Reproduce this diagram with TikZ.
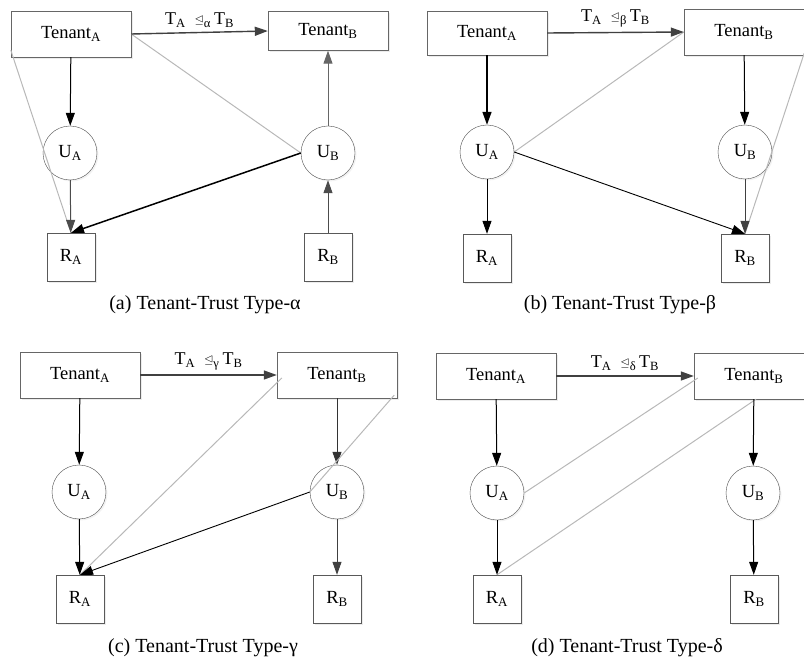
\documentclass[tikz,border=0pt]{standalone}
\usepackage{fontspec}
\usepackage{amssymb}
\setmainfont{Liberation Serif}
\usetikzlibrary{arrows.meta,shadows}

\newcommand{\trustrel}[1]{T\textsubscript{A}\enspace\raisebox{1pt}{\fontsize{12}{12}\selectfont$\trianglelefteq$}\textsubscript{#1}\,T\textsubscript{B}}

\begin{document}
\begin{tikzpicture}[x=1pt, y=-1pt,
  tenant/.style={rectangle, draw=black!60, fill=white, minimum width=120pt, minimum height=46pt, inner sep=0pt, font=\fontsize{18.5}{20}\selectfont, drop shadow={shadow xshift=2pt, shadow yshift=-2pt, fill=black!15}},
  user/.style={circle, draw=black!70, fill=white, minimum size=54pt, inner sep=0pt, font=\fontsize{18.5}{20}\selectfont, drop shadow={shadow xshift=1.5pt, shadow yshift=-1.5pt, fill=black!10}},
  res/.style={rectangle, draw=black!65, fill=white, minimum size=48pt, inner sep=0pt, font=\fontsize{18.5}{20}\selectfont, drop shadow={shadow xshift=2pt, shadow yshift=-2pt, fill=black!15}},
  arrow/.style={-{Triangle[length=13pt, width=9pt]}, line width=1pt},
  trust/.style={draw=black!28, line width=1pt},
  caption/.style={font=\fontsize{20}{22}\selectfont}
]
  \useasboundingbox (0,0) rectangle (804,663);

  % (a) type alpha
  \node[tenant, minimum height=46pt] (aTA) at (71,34) {Tenant\textsubscript{A}};
  \node[tenant, minimum height=39pt] (aTB) at (328,31) {Tenant\textsubscript{B}};
  \node[user] (aUA) at (70,153) {U\textsubscript{A}};
  \node[user] (aUB) at (328,153) {U\textsubscript{B}};
  \node[res] (aRA) at (71,257) {R\textsubscript{A}};
  \node[res] (aRB) at (328,257) {R\textsubscript{B}};
  \draw[trust] ([yshift=7pt]aTA.south west) -- (aRA.north);
  \draw[trust] (aTA.east) -- (aUB.west);
  \draw[arrow, black!75, line width=1.4pt] (aTA.east) -- node[above=1pt, black, font=\fontsize{18}{19}\selectfont] {\trustrel{α}} (aTB.west);
  \draw[arrow] (aTA) -- (aUA);
  \draw[arrow, black!70] (aUA) -- (aRA);
  \draw[arrow, line width=1.5pt] (aUB.west) -- (aRA.north);
  \draw[arrow, black!70] (aRB) -- (aUB);
  \draw[arrow, black!60] (aUB) -- (aTB);
  \node[caption] (capA) at (205,305) {(a) Tenant-Trust Type-α};

  % (b) type beta
  \node[tenant, minimum height=44pt] (bTA) at (487,33) {Tenant\textsubscript{A}};
  \node[tenant, minimum height=46pt] (bTB) at (744,32) {Tenant\textsubscript{B}};
  \node[user] (bUA) at (487,152) {U\textsubscript{A}};
  \node[user] (bUB) at (745,152) {U\textsubscript{B}};
  \node[res] (bRA) at (487,258) {R\textsubscript{A}};
  \node[res] (bRB) at (745,258) {R\textsubscript{B}};
  \draw[trust] (bUA.east) -- (bTB.west);
  \draw[trust] ([yshift=2pt]bTB.south east) -- (bRB.north);
  \draw[arrow, black!75, line width=1.4pt] (bTA.east) -- node[above=1pt, black, font=\fontsize{18}{19}\selectfont] {\trustrel{β}} (bTB.west);
  \draw[arrow, line width=1.5pt] (bTA) -- (bUA);
  \draw[arrow] (bUA) -- (bRA);
  \draw[arrow, line width=0.9pt] (bUA.east) -- (bRB.north);
  \draw[arrow] (bTB) -- (bUB);
  \draw[arrow, black!75] (bUB) -- (bRB);
  \node[caption] (capB) at (620,305) {(b) Tenant-Trust Type-β};

  % (c) type gamma
  \node[tenant] (cTA) at (80,375) {Tenant\textsubscript{A}};
  \node[tenant] (cTB) at (337,375) {Tenant\textsubscript{B}};
  \node[user] (cUA) at (79,492) {U\textsubscript{A}};
  \node[user] (cUB) at (337,492) {U\textsubscript{B}};
  \node[res] (cRA) at (80,599) {R\textsubscript{A}};
  \node[res] (cRB) at (337,599) {R\textsubscript{B}};
  \draw[trust] ([xshift=5pt, yshift=-3pt]cTB.west) -- (cRA.north);
  \draw[arrow] (cTA) -- (cUA);
  \draw[arrow] (cUA) -- (cRA);
  \draw[arrow, black!80] (cTB) -- (cUB);
  \draw[arrow, black!75] (cUB) -- (cRB);
  \draw[arrow, line width=0.9pt] (cUB.west) -- (cRA.north);
  \draw[trust] ([xshift=-3pt, yshift=3pt]cTB.south east) -- (cUB.west);
  \draw[arrow, black!75, line width=1.4pt] (cTA.east) -- node[above=1pt, black, font=\fontsize{18}{19}\selectfont] {\trustrel{γ}} (cTB.west);
  \node[caption] (capC) at (203,648) {(c) Tenant-Trust Type-γ};

  % (d) type delta
  \node[tenant] (dTA) at (496,376) {Tenant\textsubscript{A}};
  \node[tenant] (dTB) at (754,376) {Tenant\textsubscript{B}};
  \node[user] (dUA) at (497,493) {U\textsubscript{A}};
  \node[user] (dUB) at (753,493) {U\textsubscript{B}};
  \node[res] (dRA) at (497,599) {R\textsubscript{A}};
  \node[res] (dRB) at (754,599) {R\textsubscript{B}};
  \draw[trust] (dUA.east) -- ([xshift=4pt, yshift=-2pt]dTB.west);
  \draw[trust] (dRA.north) -- ([xshift=2pt]dTB.south);
  \draw[arrow, black!75, line width=1.4pt] (dTA.east) -- node[above=1pt, black, font=\fontsize{18}{19}\selectfont] {\trustrel{δ}} (dTB.west);
  \draw[arrow] (dTA) -- (dUA);
  \draw[arrow] (dUA) -- (dRA);
  \draw[arrow] (dTB) -- (dUB);
  \draw[arrow] (dUB) -- (dRB);
  \node[caption] (capD) at (627,648) {(d) Tenant-Trust Type-δ};
\end{tikzpicture}
\end{document}
